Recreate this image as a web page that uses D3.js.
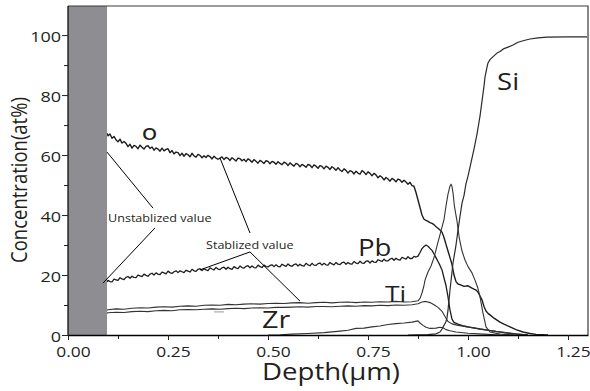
<!DOCTYPE html>
<html><head><meta charset="utf-8">
<script src="https://cdn.jsdelivr.net/npm/d3@7/dist/d3.min.js"></script>
<style>body{margin:0;background:#fff}svg{display:block}</style>
</head><body><svg id="chart" width="590" height="391"></svg>
<script>
// ---------- data (depth in µm, concentration in at%) ----------
const xTicksMajor = [0, 0.25, 0.5, 0.75, 1.0, 1.25];
const xTicksMinor = [0.125, 0.375, 0.625, 0.875, 1.125];
const yTicksMajor = [0, 20, 40, 60, 80, 100];
const yTicksMinor = [10, 30, 50, 70, 90];
const unstableRegion = [0, 0.0975];

const oxygen = [[0.0975,67.3],[0.100,66.4],[0.105,67.0],[0.110,65.6],[0.115,66.2],[0.120,65.1],[0.125,64.4],[0.130,65.3],[0.135,64.0],[0.140,64.5],[0.145,63.9],[0.150,62.8],[0.155,63.6],[0.160,62.3],[0.165,63.2],[0.170,62.9],[0.175,62.1],[0.180,63.3],[0.185,62.6],[0.190,62.0],[0.195,62.9],[0.200,63.1],[0.205,62.2],[0.210,62.7],[0.215,61.6],[0.220,62.4],[0.225,62.0],[0.230,61.3],[0.235,62.3],[0.240,61.4],[0.245,61.9],[0.250,62.1],[0.255,60.8],[0.260,61.5],[0.265,60.4],[0.270,61.0],[0.275,60.8],[0.280,59.8],[0.285,60.6],[0.290,59.6],[0.295,60.5],[0.300,60.1],[0.305,59.4],[0.310,60.6],[0.315,59.7],[0.320,59.3],[0.325,60.2],[0.330,59.9],[0.335,59.1],[0.340,59.8],[0.345,59.2],[0.350,59.9],[0.355,59.5],[0.360,58.7],[0.365,59.6],[0.370,59.0],[0.375,58.6],[0.380,59.0],[0.385,59.4],[0.390,58.5],[0.395,59.2],[0.400,58.9],[0.405,58.2],[0.410,59.1],[0.415,58.6],[0.420,58.0],[0.425,59.0],[0.430,58.8],[0.435,58.1],[0.440,58.6],[0.445,57.8],[0.450,58.7],[0.455,58.3],[0.460,57.6],[0.465,58.5],[0.470,57.9],[0.475,57.3],[0.480,58.2],[0.485,57.8],[0.490,57.2],[0.495,58.1],[0.500,57.9],[0.505,57.1],[0.510,57.9],[0.515,57.6],[0.520,56.9],[0.525,57.8],[0.530,57.2],[0.535,56.8],[0.540,57.6],[0.545,57.3],[0.550,56.5],[0.555,57.4],[0.560,56.8],[0.565,56.3],[0.570,57.2],[0.575,56.9],[0.580,56.1],[0.585,56.9],[0.590,56.5],[0.595,55.9],[0.600,56.9],[0.605,56.6],[0.610,55.8],[0.615,56.7],[0.620,56.3],[0.625,55.6],[0.630,56.5],[0.635,56.2],[0.640,55.4],[0.645,56.3],[0.650,55.9],[0.655,55.2],[0.660,56.1],[0.665,55.6],[0.670,54.9],[0.675,55.8],[0.680,55.0],[0.685,54.5],[0.690,55.4],[0.695,54.9],[0.700,54.0],[0.705,54.8],[0.710,54.5],[0.715,53.7],[0.720,54.6],[0.725,54.0],[0.730,53.6],[0.735,54.8],[0.740,54.3],[0.745,53.5],[0.750,54.4],[0.755,53.9],[0.760,53.1],[0.765,53.9],[0.770,53.4],[0.775,52.4],[0.780,53.1],[0.785,52.6],[0.790,51.7],[0.795,52.5],[0.800,52.0],[0.805,51.3],[0.810,52.2],[0.815,51.8],[0.820,51.1],[0.825,52.0],[0.830,51.7],[0.835,50.9],[0.840,51.6],[0.845,51.0],[0.850,50.3],[0.855,50.9],[0.860,49.8],[0.865,49.6],[0.87,47.5],[0.875,45.0],[0.88,42.5],[0.885,40.0],[0.89,38.6],[0.895,38.2],[0.90,37.9],[0.905,37.5],[0.91,37.2],[0.915,36.8],[0.92,36.1],[0.925,35.6],[0.93,35.0],[0.935,34.3],[0.94,32.5],[0.945,30.2],[0.95,28.0],[0.955,25.8],[0.96,23.5],[0.965,20.0],[0.97,17.8],[0.975,17.0],[0.98,16.8],[0.99,16.2],[1.00,16.4],[1.01,15.6],[1.02,15.0],[1.025,14.3],[1.03,13.0],[1.035,11.7],[1.04,9.5],[1.045,8.0],[1.05,7.2],[1.055,6.7],[1.065,5.6],[1.08,4.3],[1.09,3.6],[1.105,2.7],[1.12,1.8],[1.1375,1.0],[1.155,0.5],[1.17,0.2],[1.2,0]];

const lead = [[0.0975,17.7],[0.100,18.2],[0.105,17.8],[0.110,17.7],[0.115,18.6],[0.120,18.4],[0.125,18.2],[0.130,19.1],[0.135,18.7],[0.140,18.5],[0.145,19.2],[0.150,19.5],[0.155,18.9],[0.160,19.6],[0.165,19.2],[0.170,19.1],[0.175,20.0],[0.180,19.7],[0.185,19.5],[0.190,20.3],[0.195,19.9],[0.200,19.6],[0.205,20.3],[0.210,20.6],[0.215,20.0],[0.220,20.7],[0.225,20.3],[0.230,20.1],[0.235,21.0],[0.240,20.7],[0.245,20.4],[0.250,21.3],[0.255,20.8],[0.260,20.5],[0.265,21.1],[0.270,21.4],[0.275,20.8],[0.280,21.4],[0.285,21.1],[0.290,20.8],[0.295,21.6],[0.300,21.3],[0.305,21.0],[0.310,21.9],[0.315,21.4],[0.320,21.2],[0.325,21.9],[0.330,22.1],[0.335,21.5],[0.340,22.1],[0.345,21.7],[0.350,21.5],[0.355,22.4],[0.360,22.0],[0.365,21.7],[0.370,22.5],[0.375,22.0],[0.380,21.8],[0.385,22.4],[0.390,22.6],[0.395,21.9],[0.400,22.6],[0.405,22.1],[0.410,21.9],[0.415,22.8],[0.420,22.4],[0.425,22.1],[0.430,23.0],[0.435,22.5],[0.440,22.3],[0.445,22.9],[0.450,23.1],[0.455,22.4],[0.460,23.0],[0.465,22.5],[0.470,22.4],[0.475,23.3],[0.480,22.8],[0.485,22.5],[0.490,23.3],[0.495,22.8],[0.500,22.7],[0.505,23.2],[0.510,23.4],[0.515,22.8],[0.520,23.4],[0.525,22.9],[0.530,22.7],[0.535,23.6],[0.540,23.2],[0.545,22.9],[0.550,23.7],[0.555,23.1],[0.560,22.9],[0.565,23.5],[0.570,23.7],[0.575,23.0],[0.580,23.6],[0.585,23.1],[0.590,23.0],[0.595,23.9],[0.600,23.4],[0.605,23.1],[0.610,23.9],[0.615,23.3],[0.620,23.2],[0.625,23.8],[0.630,24.0],[0.635,23.3],[0.640,23.9],[0.645,23.4],[0.650,23.3],[0.655,24.2],[0.660,23.7],[0.665,23.4],[0.670,24.2],[0.675,23.6],[0.680,23.5],[0.685,24.1],[0.690,24.3],[0.695,23.6],[0.700,24.2],[0.705,23.7],[0.710,23.6],[0.715,24.5],[0.720,24.0],[0.725,23.8],[0.730,24.6],[0.735,24.0],[0.740,23.9],[0.745,24.6],[0.750,24.7],[0.755,24.0],[0.760,24.7],[0.765,24.3],[0.770,24.2],[0.775,25.1],[0.780,24.8],[0.785,24.5],[0.790,25.3],[0.795,24.7],[0.800,24.7],[0.805,25.3],[0.810,25.6],[0.815,24.9],[0.820,25.6],[0.825,25.1],[0.830,25.0],[0.835,25.9],[0.840,25.6],[0.845,25.3],[0.850,26.1],[0.855,25.5],[0.860,25.5],[0.865,26.2],[0.870,26.0],[0.875,26.3],[0.88,27.5],[0.885,28.8],[0.89,29.5],[0.895,30.0],[0.90,29.6],[0.905,28.9],[0.91,28.2],[0.915,27.0],[0.92,25.8],[0.925,24.5],[0.93,23.2],[0.935,21.7],[0.94,19.0],[0.945,16.5],[0.95,12.7],[0.955,8.3],[0.96,5.3],[0.965,4.2],[0.975,3.6],[0.99,3.0],[1.00,2.7],[1.03,2.0],[1.06,1.4],[1.09,0.8],[1.12,0.3],[1.15,0]];

const titanium = [[0.0975,8.3],[0.10,8.4],[0.12,8.7],[0.14,8.6],[0.16,8.9],[0.18,9.1],[0.20,9.0],[0.22,9.3],[0.24,9.4],[0.26,9.3],[0.28,9.6],[0.30,9.7],[0.32,9.6],[0.34,9.9],[0.36,10.0],[0.38,9.9],[0.40,10.2],[0.42,10.1],[0.44,10.3],[0.46,10.4],[0.48,10.3],[0.50,10.5],[0.52,10.6],[0.54,10.5],[0.56,10.7],[0.58,10.8],[0.60,10.6],[0.62,10.8],[0.64,10.9],[0.66,10.7],[0.68,10.9],[0.70,11.0],[0.72,10.8],[0.74,11.0],[0.76,10.9],[0.78,11.1],[0.80,11.0],[0.82,11.2],[0.84,11.0],[0.86,11.1],[0.875,11.4],[0.88,12.2],[0.885,14.0],[0.89,16.5],[0.8925,18.3],[0.90,21.0],[0.9075,23.0],[0.915,25.8],[0.925,31.0],[0.935,36.0],[0.94,38.5],[0.945,43.0],[0.95,47.0],[0.955,49.7],[0.9575,50.3],[0.96,49.5],[0.9625,47.5],[0.966,43.0],[0.9725,38.0],[0.978,32.5],[0.985,28.0],[0.9925,25.0],[1.00,22.8],[1.01,20.7],[1.0175,18.3],[1.025,15.5],[1.03,12.7],[1.0375,7.3],[1.045,2.7],[1.055,1.0],[1.08,0.3],[1.12,0]];

const zirconium = [[0.0975,7.3],[0.10,7.4],[0.12,7.6],[0.14,7.5],[0.16,7.8],[0.18,7.9],[0.20,7.8],[0.22,8.1],[0.24,8.2],[0.26,8.1],[0.28,8.4],[0.30,8.5],[0.32,8.4],[0.34,8.6],[0.36,8.7],[0.38,8.6],[0.40,8.8],[0.42,8.9],[0.44,8.8],[0.46,9.0],[0.48,9.1],[0.50,9.0],[0.52,9.2],[0.54,9.2],[0.56,9.3],[0.58,9.4],[0.60,9.3],[0.62,9.5],[0.64,9.5],[0.66,9.4],[0.68,9.6],[0.70,9.7],[0.72,9.6],[0.74,9.8],[0.76,9.7],[0.78,9.9],[0.80,9.8],[0.82,10.0],[0.84,9.9],[0.86,10.1],[0.875,10.4],[0.885,11.0],[0.895,11.2],[0.905,10.8],[0.915,10.1],[0.925,9.2],[0.935,7.9],[0.9425,6.2],[0.95,4.5],[0.96,3.7],[0.9725,3.3],[0.9975,2.7],[1.03,2.0],[1.07,1.2],[1.12,0.4],[1.15,0]];

const minorTrace = [[0.50,0.0],[0.53,0.1],[0.56,0.3],[0.60,0.5],[0.64,0.8],[0.68,1.3],[0.70,1.6],[0.72,2.2],[0.74,2.3],[0.76,2.7],[0.78,3.0],[0.80,3.5],[0.82,3.8],[0.84,4.0],[0.86,4.3],[0.875,4.7],[0.88,4.0],[0.8875,3.2],[0.895,2.6],[0.905,2.2],[0.92,2.3],[0.93,2.6],[0.9375,2.4],[0.945,1.8],[0.955,1.4],[0.97,1.0],[1.0,0.6],[1.04,0.3],[1.08,0]];

const silicon = [[0.85,0],[0.90,0.1],[0.92,0.4],[0.93,1.0],[0.935,2.0],[0.94,3.2],[0.945,4.5],[0.9475,5.7],[0.95,8.3],[0.955,15.0],[0.96,21.0],[0.9625,24.0],[0.97,30.0],[0.975,35.0],[0.98,39.5],[0.985,44.0],[0.99,46.5],[0.995,50.5],[1.0,53.0],[1.005,56.0],[1.01,59.0],[1.015,62.0],[1.0225,67.0],[1.03,73.0],[1.035,78.0],[1.04,83.0],[1.0425,86.0],[1.047,89.0],[1.05,90.7],[1.055,91.8],[1.06,92.5],[1.0725,94.0],[1.08,94.5],[1.09,95.5],[1.1,96.0],[1.1125,96.7],[1.125,97.6],[1.14,98.2],[1.155,98.7],[1.175,99.1],[1.1975,99.3],[1.25,99.4],[1.2975,99.4]];

// labels: [text, depth, value(baseline), fontSize, anchor, weight]
const seriesLabels = [["O",0.204,65,16,"middle",600],["Pb",0.725,26.3,23,"start",400],["Ti",0.7925,11,22,"start",400],["Zr",0.485,2.3,24,"start",400],["Si",1.0725,81.7,23,"start",400]];
// annotation leader lines in data units
const annotationLines = [
  [[0.0975,61],[0.2125,42.3]],
  [[0.2175,35.7],[0.0875,17.3]],
  [[0.38,59],[0.455,34]],
  [[0.455,27.7],[0.33,21.7]],
  [[0.455,27.7],[0.58,11.3]]
];
const annotationTexts = [["Unstablized value",0.1,37.7],["Stablized value",0.345,28.7]];
const smallDash = [[0.365,7.7],[0.39,7.7]];

// ---------- drawing ----------
const FONT = "'Open Sans', 'Liberation Sans', sans-serif";
const STRETCH = 1.2;
const svg = d3.select("#chart");
const x = d3.scaleLinear().domain([0, 1.3]).range([68, 588]);
const y = d3.scaleLinear().domain([0, 109.7]).range([335, 6]);
const line = d3.line().x(d => x(d[0])).y(d => y(d[1]));

const curves = [
  {d: oxygen, w: 1.4, c: "#1e1e1e"},
  {d: lead, w: 1.3, c: "#1e1e1e"},
  {d: titanium, w: 1.1, c: "#333"},
  {d: zirconium, w: 1.1, c: "#333"},
  {d: minorTrace, w: 1.1, c: "#333"},
  {d: silicon, w: 1.2, c: "#2a2a2a"}
];
svg.append("g").selectAll("path").data(curves).join("path")
  .attr("d", s => line(s.d)).attr("fill", "none")
  .attr("stroke", s => s.c).attr("stroke-width", s => s.w).attr("stroke-linejoin", "round");

// unstable region band
svg.append("rect")
  .attr("x", x(unstableRegion[0])).attr("width", x(unstableRegion[1]) - x(unstableRegion[0]))
  .attr("y", y(109.7)).attr("height", y(0) - y(109.7))
  .attr("fill", "#8e8e92");

// annotation lines
svg.append("g").selectAll("path").data(annotationLines).join("path")
  .attr("d", line).attr("stroke", "#000").attr("stroke-width", 1).attr("fill", "none");
svg.append("path").attr("d", line(smallDash)).attr("stroke", "#999").attr("stroke-width", 1);

function stretchedText(g, txt, px, py, size, anchor, weight) {
  return g.append("text")
    .attr("transform", `translate(${px},${py}) scale(${STRETCH},1)`)
    .attr("text-anchor", anchor).attr("font-family", FONT).attr("font-size", size)
    .attr("font-weight", weight || 400)
    .attr("fill", "#231f20").text(txt);
}
const labG = svg.append("g");
annotationTexts.forEach(a => stretchedText(labG, a[0], x(a[1]), y(a[2]), 10.5, "start"));
seriesLabels.forEach(l => stretchedText(labG, l[0], x(l[1]), y(l[2]), l[3], l[4], l[5]));

// frame
svg.append("path").attr("d", `M${x(0)},${y(109.7)}H${x(1.3)}V${y(0)}`)
  .attr("fill", "none").attr("stroke", "#3a3a3a").attr("stroke-width", 1.2);

// x axis
const xAxisG = svg.append("g").attr("transform", `translate(0,${y(0)})`);
xAxisG.append("g").call(d3.axisBottom(x).tickValues(xTicksMinor).tickSize(4).tickFormat(""))
  .call(g => g.select(".domain").remove());
xAxisG.append("g").call(d3.axisBottom(x).tickValues(xTicksMajor).tickSize(5).tickSizeOuter(0).tickFormat(d3.format(".2f")))
  .call(g => g.select(".domain").attr("stroke-width", 1.6));
xAxisG.selectAll("text").attr("y", null).attr("dy", null)
  .attr("transform", `translate(5,22) scale(${STRETCH},1)`)
  .attr("font-family", FONT).attr("font-size", 14.5).attr("fill", "#231f20");
xAxisG.selectAll("line").attr("stroke", "#222");

// y axis
const yAxisG = svg.append("g").attr("transform", `translate(${x(0)},0)`);
yAxisG.append("g").call(d3.axisLeft(y).tickValues(yTicksMinor).tickSize(4).tickFormat(""))
  .call(g => g.select(".domain").remove());
yAxisG.append("g").call(d3.axisLeft(y).tickValues(yTicksMajor).tickSize(6).tickSizeOuter(0).tickFormat(d3.format("d")))
  .call(g => g.select(".domain").attr("d", `M0,${y(109.7)}V${y(0)}`).attr("stroke-width", 1.2));
yAxisG.selectAll("text").attr("x", null).attr("dy", null)
  .attr("transform", `translate(-7,6) scale(${STRETCH},1)`)
  .attr("font-family", FONT).attr("font-size", 15).attr("fill", "#231f20");
yAxisG.selectAll("line").attr("stroke", "#222");

// axis titles
stretchedText(svg, "Depth(μm)", 331, 380, 23, "middle");
svg.append("text")
  .attr("transform", `translate(27,180) scale(${STRETCH},1) rotate(-90)`)
  .attr("text-anchor", "middle").attr("font-family", FONT).attr("font-size", 18.5)
  .attr("fill", "#231f20").text("Concentration(at%)");
</script>
</body></html>
